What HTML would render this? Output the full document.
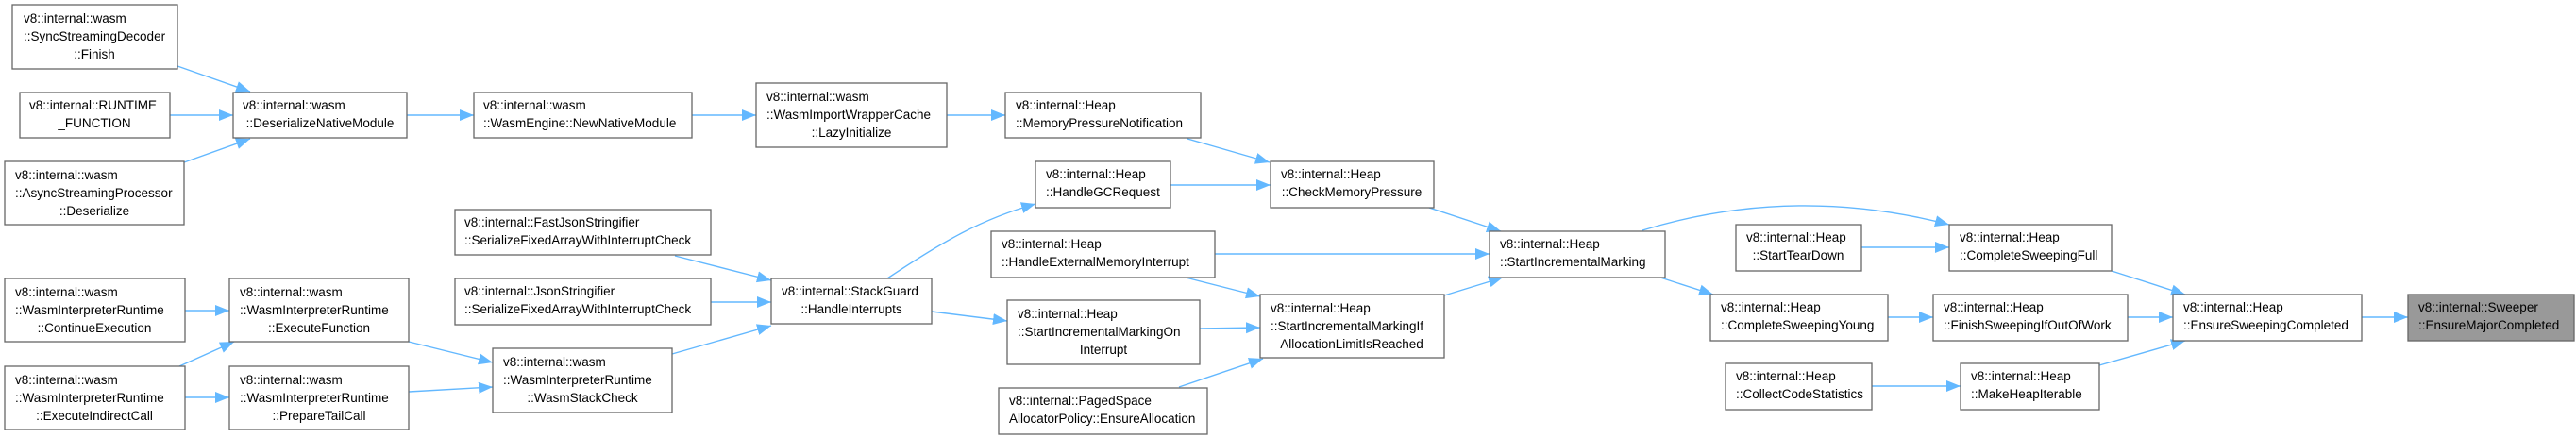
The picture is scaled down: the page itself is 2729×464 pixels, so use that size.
<!DOCTYPE html>
<html><head><meta charset="utf-8"><style>
html,body{margin:0;padding:0;background:#fff;}
svg{display:block;}
text{font-family:"Liberation Sans",sans-serif;font-size:13.5px;fill:#000;}
.b{fill:#fff;stroke:#666;stroke-width:1.3;}
.e{fill:none;stroke:#63b8ff;stroke-width:1.4;}
</style></head><body>
<svg width="2729" height="464" viewBox="0 0 2729 464" xmlns="http://www.w3.org/2000/svg">
<defs><marker id="a" markerUnits="userSpaceOnUse" markerWidth="16" markerHeight="14" refX="15" refY="7" orient="auto"><path d="M0,1 L15,7 L0,13 z" fill="#63b8ff"/></marker></defs>
<g id="edges">
<path class="e" marker-end="url(#a)" d="M188,70 L265,97"/>
<path class="e" marker-end="url(#a)" d="M180,122 L247,122"/>
<path class="e" marker-end="url(#a)" d="M195,172 L265,147"/>
<path class="e" marker-end="url(#a)" d="M431,122 L502,122"/>
<path class="e" marker-end="url(#a)" d="M733,122 L801,122"/>
<path class="e" marker-end="url(#a)" d="M1003,122 L1065,122"/>
<path class="e" marker-end="url(#a)" d="M1258,147 L1345,172"/>
<path class="e" marker-end="url(#a)" d="M1240,196 L1346,196"/>
<path class="e" marker-end="url(#a)" d="M715,271 L817,297"/>
<path class="e" marker-end="url(#a)" d="M753,320 L817,320"/>
<path class="e" marker-end="url(#a)" d="M712,375 L817,345"/>
<path class="e" marker-end="url(#a)" d="M940,295 C1000,255 1040,232 1097,216"/>
<path class="e" marker-end="url(#a)" d="M987,330 L1067,340"/>
<path class="e" marker-end="url(#a)" d="M433,362 L522,384"/>
<path class="e" marker-end="url(#a)" d="M433,415 L522,410"/>
<path class="e" marker-end="url(#a)" d="M196,329 L243,329"/>
<path class="e" marker-end="url(#a)" d="M190,388 L248,362"/>
<path class="e" marker-end="url(#a)" d="M196,421 L243,421"/>
<path class="e" marker-end="url(#a)" d="M1514,220 L1590,245"/>
<path class="e" marker-end="url(#a)" d="M1287,269 L1578,269"/>
<path class="e" marker-end="url(#a)" d="M1256,294 L1335,314"/>
<path class="e" marker-end="url(#a)" d="M1271,348 L1335,347"/>
<path class="e" marker-end="url(#a)" d="M1249,410 L1338,380"/>
<path class="e" marker-end="url(#a)" d="M1530,313 L1592,294"/>
<path class="e" marker-end="url(#a)" d="M1740,244 Q1900,195 2065,238"/>
<path class="e" marker-end="url(#a)" d="M1972,262 L2065,262"/>
<path class="e" marker-end="url(#a)" d="M1759,294 L1815,312"/>
<path class="e" marker-end="url(#a)" d="M2000,336 L2048,336"/>
<path class="e" marker-end="url(#a)" d="M1983,409 L2077,409"/>
<path class="e" marker-end="url(#a)" d="M2237,287 L2315,312"/>
<path class="e" marker-end="url(#a)" d="M2254,336 L2302,336"/>
<path class="e" marker-end="url(#a)" d="M2224,387 L2315,361"/>
<path class="e" marker-end="url(#a)" d="M2502,336 L2551,336"/>
</g>
<g id="nodes">
<rect class="b" x="13" y="5" width="175" height="68"/>
<text x="25" y="24">v8::internal::wasm</text><text x="25" y="43">::SyncStreamingDecoder</text><text x="100" y="62" text-anchor="middle">::Finish</text>

<rect class="b" x="21" y="98" width="159" height="48"/>
<text x="31" y="116">v8::internal::RUNTIME</text><text x="100" y="135" text-anchor="middle">_FUNCTION</text>

<rect class="b" x="5" y="171" width="190" height="67"/>
<text x="16" y="190">v8::internal::wasm</text><text x="16" y="209">::AsyncStreamingProcessor</text><text x="100" y="228" text-anchor="middle">::Deserialize</text>

<rect class="b" x="247" y="98" width="184" height="48"/>
<text x="257" y="116">v8::internal::wasm</text><text x="339" y="135" text-anchor="middle">::DeserializeNativeModule</text>

<rect class="b" x="502" y="98" width="231" height="48"/>
<text x="512" y="116">v8::internal::wasm</text><text x="512" y="135">::WasmEngine::NewNativeModule</text>

<rect class="b" x="482" y="222" width="271" height="48"/>
<text x="492" y="240">v8::internal::FastJsonStringifier</text><text x="492" y="259">::SerializeFixedArrayWithInterruptCheck</text>

<rect class="b" x="482" y="295" width="271" height="49"/>
<text x="492" y="313">v8::internal::JsonStringifier</text><text x="492" y="332">::SerializeFixedArrayWithInterruptCheck</text>

<rect class="b" x="5" y="295" width="191" height="67"/>
<text x="16" y="314">v8::internal::wasm</text><text x="16" y="333">::WasmInterpreterRuntime</text><text x="100" y="352" text-anchor="middle">::ContinueExecution</text>

<rect class="b" x="243" y="295" width="190" height="67"/>
<text x="254" y="314">v8::internal::wasm</text><text x="254" y="333">::WasmInterpreterRuntime</text><text x="338" y="352" text-anchor="middle">::ExecuteFunction</text>

<rect class="b" x="5" y="388" width="191" height="67"/>
<text x="16" y="407">v8::internal::wasm</text><text x="16" y="426">::WasmInterpreterRuntime</text><text x="100" y="445" text-anchor="middle">::ExecuteIndirectCall</text>

<rect class="b" x="243" y="388" width="190" height="67"/>
<text x="254" y="407">v8::internal::wasm</text><text x="254" y="426">::WasmInterpreterRuntime</text><text x="338" y="445" text-anchor="middle">::PrepareTailCall</text>

<rect class="b" x="522" y="369" width="190" height="68"/>
<text x="533" y="388">v8::internal::wasm</text><text x="533" y="407">::WasmInterpreterRuntime</text><text x="617" y="426" text-anchor="middle">::WasmStackCheck</text>

<rect class="b" x="801" y="88" width="202" height="68"/>
<text x="812" y="107">v8::internal::wasm</text><text x="812" y="126">::WasmImportWrapperCache</text><text x="902" y="145" text-anchor="middle">::LazyInitialize</text>

<rect class="b" x="1065" y="98" width="207" height="48"/>
<text x="1076" y="116">v8::internal::Heap</text><text x="1076" y="135">::MemoryPressureNotification</text>

<rect class="b" x="1097" y="171" width="143" height="49"/>
<text x="1108" y="189">v8::internal::Heap</text><text x="1108" y="208">::HandleGCRequest</text>

<rect class="b" x="1346" y="171" width="173" height="49"/>
<text x="1357" y="189">v8::internal::Heap</text><text x="1432" y="208" text-anchor="middle">::CheckMemoryPressure</text>

<rect class="b" x="1050" y="245" width="237" height="49"/>
<text x="1061" y="263">v8::internal::Heap</text><text x="1061" y="282">::HandleExternalMemoryInterrupt</text>

<rect class="b" x="817" y="295" width="170" height="48"/>
<text x="828" y="313">v8::internal::StackGuard</text><text x="902" y="332" text-anchor="middle">::HandleInterrupts</text>

<rect class="b" x="1067" y="318" width="204" height="68"/>
<text x="1078" y="337">v8::internal::Heap</text><text x="1078" y="356">::StartIncrementalMarkingOn</text><text x="1169" y="375" text-anchor="middle">Interrupt</text>

<rect class="b" x="1335" y="312" width="195" height="67"/>
<text x="1346" y="331">v8::internal::Heap</text><text x="1346" y="350">::StartIncrementalMarkingIf</text><text x="1432" y="369" text-anchor="middle">AllocationLimitIsReached</text>

<rect class="b" x="1058" y="411" width="221" height="49"/>
<text x="1069" y="429">v8::internal::PagedSpace</text><text x="1069" y="448">AllocatorPolicy::EnsureAllocation</text>

<rect class="b" x="1578" y="245" width="186" height="49"/>
<text x="1589" y="263">v8::internal::Heap</text><text x="1589" y="282">::StartIncrementalMarking</text>

<rect class="b" x="1839" y="238" width="133" height="49"/>
<text x="1850" y="256">v8::internal::Heap</text><text x="1905" y="275" text-anchor="middle">::StartTearDown</text>

<rect class="b" x="1812" y="312" width="188" height="49"/>
<text x="1823" y="330">v8::internal::Heap</text><text x="1823" y="349">::CompleteSweepingYoung</text>

<rect class="b" x="1828" y="385" width="155" height="49"/>
<text x="1839" y="403">v8::internal::Heap</text><text x="1839" y="422">::CollectCodeStatistics</text>

<rect class="b" x="2065" y="238" width="172" height="49"/>
<text x="2076" y="256">v8::internal::Heap</text><text x="2076" y="275">::CompleteSweepingFull</text>

<rect class="b" x="2048" y="312" width="206" height="49"/>
<text x="2059" y="330">v8::internal::Heap</text><text x="2059" y="349">::FinishSweepingIfOutOfWork</text>

<rect class="b" x="2077" y="385" width="147" height="49"/>
<text x="2088" y="403">v8::internal::Heap</text><text x="2088" y="422">::MakeHeapIterable</text>

<rect class="b" x="2302" y="312" width="200" height="49"/>
<text x="2313" y="330">v8::internal::Heap</text><text x="2313" y="349">::EnsureSweepingCompleted</text>

<rect x="2551" y="312" width="176" height="49" fill="#999" stroke="#666" stroke-width="1.3"/>
<text x="2562" y="330">v8::internal::Sweeper</text><text x="2562" y="349">::EnsureMajorCompleted</text>
</g>
</svg>
</body></html>
